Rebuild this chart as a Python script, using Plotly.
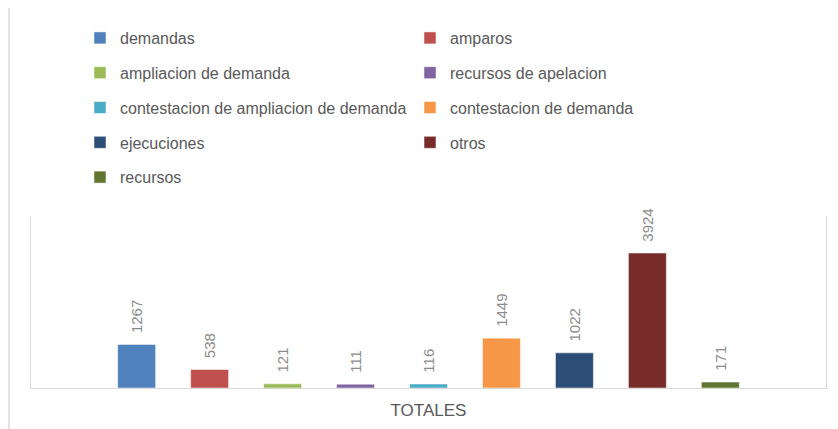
import plotly.graph_objects as go

category = ["TOTALES"]
series_names = ["demandas", "amparos", "ampliacion de demanda", "recursos de apelacion",
                "contestacion de ampliacion de demanda", "contestacion de demanda",
                "ejecuciones", "otros", "recursos"]
values = [1267, 538, 121, 111, 116, 1449, 1022, 3924, 171]
colors = ["#4F81BD", "#C0504D", "#9BBB59", "#8064A2", "#4BACC6", "#F79646",
          "#2C4D75", "#772C2A", "#5F7530"]

FONT = "Liberation Sans"
GRAY_TXT = "#595959"
W, H = 830, 421  # page body has an 8px margin

fig = go.Figure()
for i, (name, v, c) in enumerate(zip(series_names, values, colors)):
    fig.add_trace(go.Bar(
        x=category, y=[v], name=name,
        marker=dict(color=c, line=dict(color="rgba(255,255,255,0.5)", width=1)),
        text=[v], texttemplate="\u00a0\u00a0%{y}", textposition="outside", textangle=-90,
        textfont=dict(family=FONT, size=15, color="#8c8c8c"),
        cliponaxis=False, constraintext="none",
        legend="legend" if i % 2 == 0 else "legend2",
        legendgroup=name,
    ))

legend_common = dict(
    orientation="v", xref="container", yref="container", xanchor="left", yanchor="top",
    font=dict(family=FONT, size=16, color=GRAY_TXT), tracegroupgap=11,
    bgcolor="rgba(0,0,0,0)", traceorder="grouped",
)
fig.update_layout(
    width=W, height=H,
    margin=dict(l=23, r=12, t=208, b=41, autoexpand=False),
    paper_bgcolor="white", plot_bgcolor="white",
    barmode="group", bargap=0.174, bargroupgap=0.48,
    showlegend=True,
    legend=dict(x=72 / W, y=1 - 13 / H, **legend_common),
    legend2=dict(x=402 / W, y=1 - 13 / H, **legend_common),
    xaxis=dict(showline=True, linecolor="#d9d9d9", linewidth=1, ticks="",
               tickfont=dict(family=FONT, size=17, color=GRAY_TXT), showgrid=False,
               ticklabelstandoff=7),
    yaxis=dict(range=[0, 5000], showline=True, mirror=True, linecolor="#d9d9d9",
               linewidth=1, showticklabels=False, ticks="", showgrid=False, zeroline=False),
    shapes=[dict(type="rect", xref="paper", yref="paper",
                 x0=(1 - 23) / 795, x1=(860 - 23) / 795,
                 y0=(380 - 450) / 172, y1=(380 + 2) / 172,
                 line=dict(color="#d9d9d9", width=1.5), fillcolor="rgba(0,0,0,0)",
                 layer="below")],
)
fig.write_html("out.html")
